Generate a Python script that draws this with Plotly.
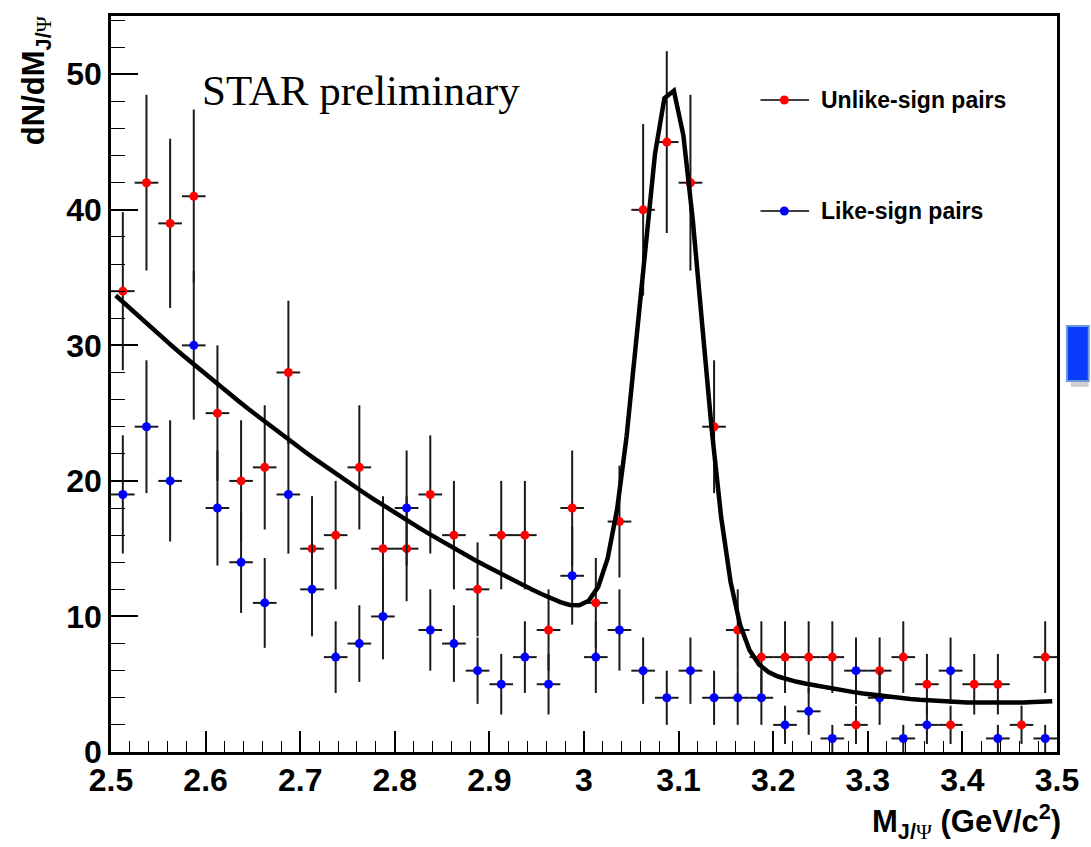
import numpy as np
import plotly.graph_objects as go

# Invariant-mass histogram: 40 bins of 25 MeV between 2.5 and 3.5 GeV/c^2
bin_lo = 2.5
bin_width = 0.025
n_bins = 40
mass = [round(bin_lo + bin_width * (i + 0.5), 4) for i in range(n_bins)]

unlike_sign = [34, 42, 39, 41, 25, 20, 21, 28, 15, 16,
               21, 15, 15, 19, 16, 12, 16, 16, 9, 18,
               11, 17, 40, 45, 42, 24, 9, 7, 7, 7,
               7, 2, 6, 7, 5, 2, 5, 5, 2, 7]

like_sign = [19, 24, 20, 30, 18, 14, 11, 19, 12, 7,
             8, 10, 18, 9, 8, 6, 5, 7, 5, 13,
             7, 9, 6, 4, 6, 4, 4, 4, 2, 3,
             1, 6, 4, 1, 2, 6, None, 1, None, 1]

# Fit: second-order polynomial background + Gaussian J/psi peak
bg_p0, bg_p1, bg_p2 = 34.0, -64.9, 34.67   # polynomial in (m - 2.5)
peak_amp, peak_mean, peak_sigma = 41.3, 3.092, 0.0323
fit_lo, fit_hi, fit_npx = 2.505, 3.495, 100


def poisson_err(vals):
    return [None if v is None else float(np.sqrt(v)) for v in vals]


def fit_model(m):
    u = m - 2.5
    bg = bg_p0 + bg_p1 * u + bg_p2 * u * u
    return bg + peak_amp * np.exp(-0.5 * ((m - peak_mean) / peak_sigma) ** 2)


fit_m = np.linspace(fit_lo, fit_hi, fit_npx)
fit_y = fit_model(fit_m)

ERR_COLOR = "#1a1a1a"
half_bin = [bin_width / 2] * n_bins

fig = go.Figure()


def add_series(values, color):
    fig.add_trace(go.Scatter(
        x=mass, y=values, mode="markers",
        marker=dict(color=color, size=9, line=dict(width=0)),
        error_y=dict(type="data", array=poisson_err(values), visible=True,
                     color=ERR_COLOR, thickness=2, width=0),
        error_x=dict(type="data", array=half_bin, visible=True,
                     color=ERR_COLOR, thickness=2, width=0),
        hoverinfo="x+y",
    ))


add_series(unlike_sign, "#ff0000")
add_series(like_sign, "#0000ff")

fig.add_trace(go.Scatter(
    x=fit_m, y=fit_y, mode="lines",
    line=dict(color="black", width=4.5),
    hoverinfo="skip",
))

tick_font = dict(family="Liberation Sans, Arial, sans-serif", size=32,
                 color="black", weight="bold")

fig.update_xaxes(
    range=[2.5, 3.5], dtick=0.1, tick0=2.5,
    ticks="inside", ticklen=21, tickwidth=1.5, tickcolor="black",
    minor=dict(dtick=0.02, ticks="inside", ticklen=11, tickwidth=1.2,
               tickcolor="black"),
    showline=True, linewidth=2.5, linecolor="black", mirror=True,
    showgrid=False, zeroline=False, tickfont=tick_font,
    ticklabelstandoff=-2,
)
fig.update_yaxes(
    range=[0, 54.3], dtick=10, tick0=0,
    ticks="inside", ticklen=27, tickwidth=1.5, tickcolor="black",
    minor=dict(dtick=2, ticks="inside", ticklen=14, tickwidth=1.2,
               tickcolor="black"),
    showline=True, linewidth=2.5, linecolor="black", mirror=True,
    showgrid=False, zeroline=False, tickfont=tick_font,
)

W, H = 1091, 847
ML, MR, MT, MB = 111, 26, 16, 95
PW, PH = W - ML - MR, H - MT - MB


def px(xp):
    return (xp - ML) / PW


def py(yp):
    return (H - MB - yp) / PH


title_font = dict(family="Liberation Sans, Arial, sans-serif", size=31,
                  color="black", weight="bold")
psi = "<span style='font-family:Liberation Serif;font-weight:normal'>Ψ</span>"

annotations = [
    dict(text=f"M<sub>J/{psi}</sub> (GeV/c<sup>2</sup>)",
         x=px(1071), y=py(821), xref="paper", yref="paper",
         xanchor="right", yanchor="middle", showarrow=False, font=title_font),
    dict(text=f"dN/dM<sub>J/{psi}</sub>", textangle=-90,
         x=px(36), y=py(14), xref="paper", yref="paper",
         xanchor="center", yanchor="top", showarrow=False, font=title_font),
    dict(text="STAR preliminary", x=px(201), y=py(91),
         xref="paper", yref="paper", xanchor="left", yanchor="middle",
         showarrow=False,
         font=dict(family="Liberation Serif, Times New Roman, serif",
                   size=43, color="black")),
]

shapes = []
legend_items = [("Unlike-sign pairs", "#ff0000", 100),
                ("Like-sign pairs", "#0000ff", 211)]
for label, color, yc in legend_items:
    shapes.append(dict(type="line", xref="paper", yref="paper",
                       x0=px(766), x1=px(815), y0=py(yc), y1=py(yc),
                       line=dict(color="black", width=1.3)))
    shapes.append(dict(type="circle", xref="paper", yref="paper",
                       xsizemode="pixel", ysizemode="pixel",
                       xanchor=px(790), yanchor=py(yc),
                       x0=-4.5, x1=4.5, y0=-4.5, y1=4.5,
                       fillcolor=color, line=dict(width=0)))
    annotations.append(dict(text=label, x=px(825), y=py(yc),
                            xref="paper", yref="paper",
                            xanchor="left", yanchor="middle", showarrow=False,
                            font=dict(family="Liberation Sans, Arial, sans-serif",
                                      size=23, color="black", weight="bold")))

# Blue tab at the right edge of the slide
shapes.append(dict(type="rect", xref="paper", yref="paper",
                   x0=px(1079), x1=px(1097), y0=py(387), y1=py(331),
                   fillcolor="rgba(120,120,120,0.35)", line=dict(width=0),
                   layer="above"))
shapes.append(dict(type="rect", xref="paper", yref="paper",
                   x0=px(1075), x1=px(1097), y0=py(381), y1=py(326),
                   fillcolor="#0a3cff", line=dict(color="#6a9ad8", width=2),
                   layer="above"))

fig.update_layout(
    width=W, height=H,
    margin=dict(l=ML, r=MR, t=MT, b=MB),
    plot_bgcolor="white", paper_bgcolor="white",
    showlegend=False,
    annotations=annotations,
    shapes=shapes,
)

fig.write_html("out.html")
